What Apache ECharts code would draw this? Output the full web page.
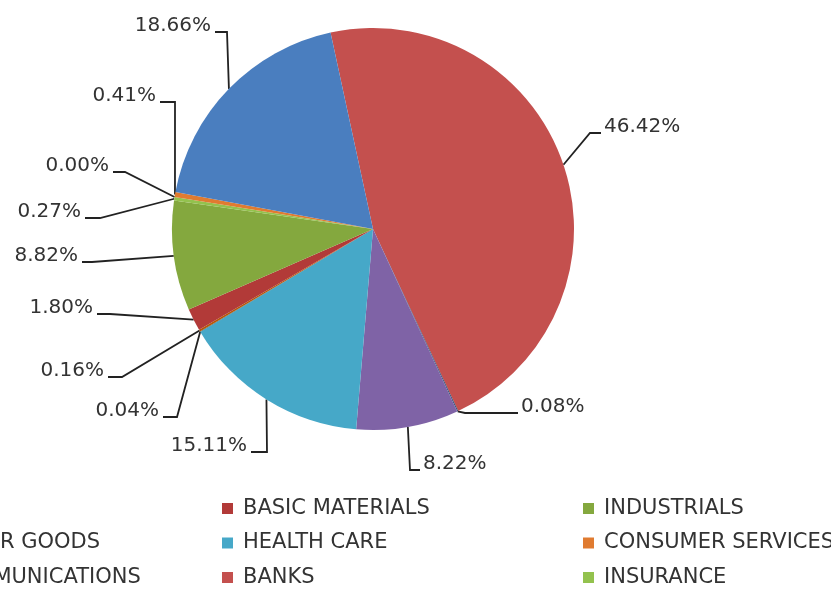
<!DOCTYPE html>
<html><head><meta charset="utf-8">
<script src="https://cdn.jsdelivr.net/npm/echarts/dist/echarts.min.js"></script>
<style>html,body{margin:0;padding:0;background:#fff}#c{width:831px;height:589px}</style>
</head><body><div id="c"></div>
<script>
// slices in clockwise order starting at the Banks slice
const sectors = ['BANKS','FINANCIAL SERVICES','CONSUMER GOODS','HEALTH CARE','TECHNOLOGY','UTILITIES','BASIC MATERIALS','INDUSTRIALS','INSURANCE','OIL & GAS','CONSUMER SERVICES','TELECOMMUNICATIONS'];
const shares = [46.42, 0.08, 8.22, 15.11, 0.04, 0.16, 1.80, 8.82, 0.27, 0.00, 0.41, 18.66];
const sliceColors = ['#C4504E','#2C4D75','#7F63A6','#46A8C8','#276A7C','#B65708','#B23A38','#84A83E','#93C24E','#4F81BD','#E07B30','#4A7EBF'];
const legendCol1 = ['OIL & GAS','CONSUMER GOODS','TELECOMMUNICATIONS'];
const legendCol2 = ['BASIC MATERIALS','HEALTH CARE','BANKS'];
const legendCol3 = ['INDUSTRIALS','CONSUMER SERVICES','INSURANCE'];
// label leader guides: bend point offset from pie centre, tick length (negative = text on the left)
const labelGuides = [[217,-96,11],[92,184,53],[37,241,10],[-106,223,-16],[-196,188,-14],[-251,148,-14],[-263,85,-13],[-281,33,-10],[-273,-11,-15],[-248,-57,-12],[-198,-127,-15],[-146,-197,-12]];

const CX = 373, CY = 229, R = 201;
const FONT = 'DejaVu Sans';

const chart = echarts.init(document.getElementById('c'), null, {renderer:'canvas'});

function makeLegend(names, left){
  return {
    orient:'vertical', left:left, top:498, height:160, padding:0,
    data:names, icon:'rect', itemWidth:11, itemHeight:11,
    itemGap:13.5, selectedMode:false,
    textStyle:{fontFamily:FONT, fontSize:21, color:'#333', lineHeight:21, padding:[0,0,0,5]}
  };
}

chart.setOption({
  animation:false,
  backgroundColor:'#fff',
  legend:[makeLegend(legendCol1,-128), makeLegend(legendCol2,222), makeLegend(legendCol3,583)],
  series:[{
    type:'pie',
    center:[CX,CY], radius:R,
    startAngle:102.2, clockwise:true,
    avoidLabelOverlap:false,
    emphasis:{disabled:true},
    data: sectors.map((n,i)=>({name:n, value:shares[i], itemStyle:{color:sliceColors[i]}})),
    label:{show:true, position:'outside', formatter:p=>p.value.toFixed(2)+'%',
      fontFamily:FONT, fontSize:20, color:'#333'},
    labelLine:{show:true, lineStyle:{color:'#222', width:1.8}},
    labelLayout:function(p){
      const g = labelGuides[p.dataIndex];
      const bx = CX+g[0], by = CY+g[1], ax = bx+g[2];
      const left = g[2] < 0;
      return {
        x: left ? ax-4 : ax+3, y: by-6,
        align: left ? 'right' : 'left', verticalAlign:'middle',
        labelLinePoints:[p.labelLinePoints[0],[bx,by],[ax,by]]
      };
    }
  }]
});
</script></body></html>
